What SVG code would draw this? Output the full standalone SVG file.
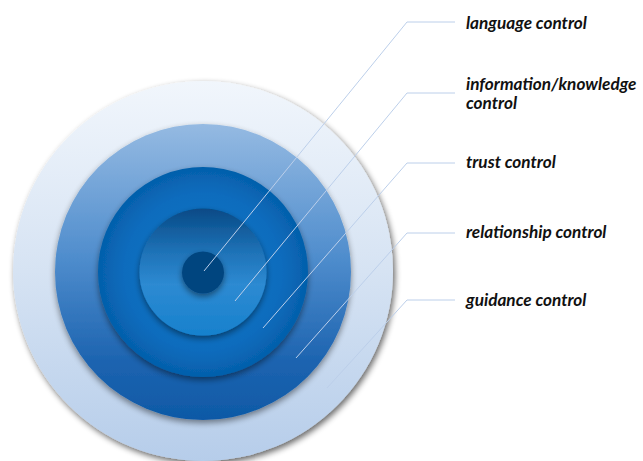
<svg xmlns="http://www.w3.org/2000/svg" width="643" height="461" viewBox="0 0 643 461">
  <defs>
    <linearGradient id="gOuter" x1="0" y1="0" x2="0" y2="1">
      <stop offset="0" stop-color="#f1f6fc"/>
      <stop offset="0.5" stop-color="#d6e3f3"/>
      <stop offset="1" stop-color="#b6cdea"/>
    </linearGradient>
    <linearGradient id="gRing2" x1="0" y1="0" x2="0" y2="1">
      <stop offset="0" stop-color="#95bae2"/>
      <stop offset="0.45" stop-color="#4f8dcd"/>
      <stop offset="0.8" stop-color="#1d64b0"/>
      <stop offset="1" stop-color="#0e59a6"/>
    </linearGradient>
    <radialGradient id="gRing3" cx="0.5" cy="0.5" r="0.5">
      <stop offset="0" stop-color="#1478c8"/>
      <stop offset="0.75" stop-color="#0b6cbd"/>
      <stop offset="1" stop-color="#055fab"/>
    </radialGradient>
    <linearGradient id="gRing4" x1="0" y1="0" x2="0" y2="1">
      <stop offset="0" stop-color="#074a86"/>
      <stop offset="0.35" stop-color="#1f73b8"/>
      <stop offset="0.6" stop-color="#2d8ad2"/>
      <stop offset="1" stop-color="#1781cd"/>
    </linearGradient>
    <filter id="shadow" x="-20%" y="-20%" width="140%" height="140%">
      <feGaussianBlur in="SourceAlpha" stdDeviation="3"/>
      <feOffset dx="1.5" dy="3" result="blur"/>
      <feComponentTransfer><feFuncA type="linear" slope="0.6"/></feComponentTransfer>
      <feMerge><feMergeNode/><feMergeNode in="SourceGraphic"/></feMerge>
    </filter>
    <filter id="shadowDark" x="-20%" y="-20%" width="140%" height="140%">
      <feGaussianBlur in="SourceAlpha" stdDeviation="3"/>
      <feOffset dx="0" dy="3" result="blur"/>
      <feComponentTransfer><feFuncA type="linear" slope="0.45"/></feComponentTransfer>
      <feMerge><feMergeNode/><feMergeNode in="SourceGraphic"/></feMerge>
    </filter>
  </defs>
  <style>
    .label { font-family: Lato, "Liberation Sans", sans-serif; font-weight: bold; font-style: italic; font-size: 17.2px; fill: #111111; }
    .leader { fill: none; stroke: #bccfea; stroke-width: 1; }
  </style>

  <rect width="643" height="461" fill="#ffffff"/>

  <!-- concentric rings, outermost first -->
  <g id="guidance-ring">
    <circle cx="203" cy="271" r="190" fill="url(#gOuter)" filter="url(#shadow)"/>
  </g>
  <g id="relationship-ring">
    <circle cx="203" cy="272" r="148" fill="url(#gRing2)" filter="url(#shadowDark)"/>
  </g>
  <g id="trust-ring">
    <circle cx="203" cy="272" r="105" fill="url(#gRing3)" filter="url(#shadowDark)"/>
  </g>
  <g id="information-ring">
    <circle cx="203" cy="272" r="63.5" fill="url(#gRing4)" filter="url(#shadowDark)"/>
  </g>
  <g id="language-core">
    <circle cx="203" cy="272.5" r="21" fill="#03457f" filter="url(#shadowDark)"/>
  </g>

  <!-- leader lines from each ring to its label -->
  <g id="connectors">
    <polyline class="leader" points="204,271 407,22 455,22"/>
    <polyline class="leader" points="235,301 407,93 455,93"/>
    <polyline class="leader" points="263,328 407,163 455,163"/>
    <polyline class="leader" points="296,358 407,233 455,233"/>
    <polyline class="leader" points="327,388 407,300 455,300"/>
  </g>

  <g id="labels">
    <text class="label" x="466" y="28.5">language control</text>
    <text class="label" x="466" y="90">information/knowledge</text>
    <text class="label" x="466" y="109">control</text>
    <text class="label" x="466" y="168">trust control</text>
    <text class="label" x="466" y="238">relationship control</text>
    <text class="label" x="466" y="306">guidance control</text>
  </g>
</svg>
